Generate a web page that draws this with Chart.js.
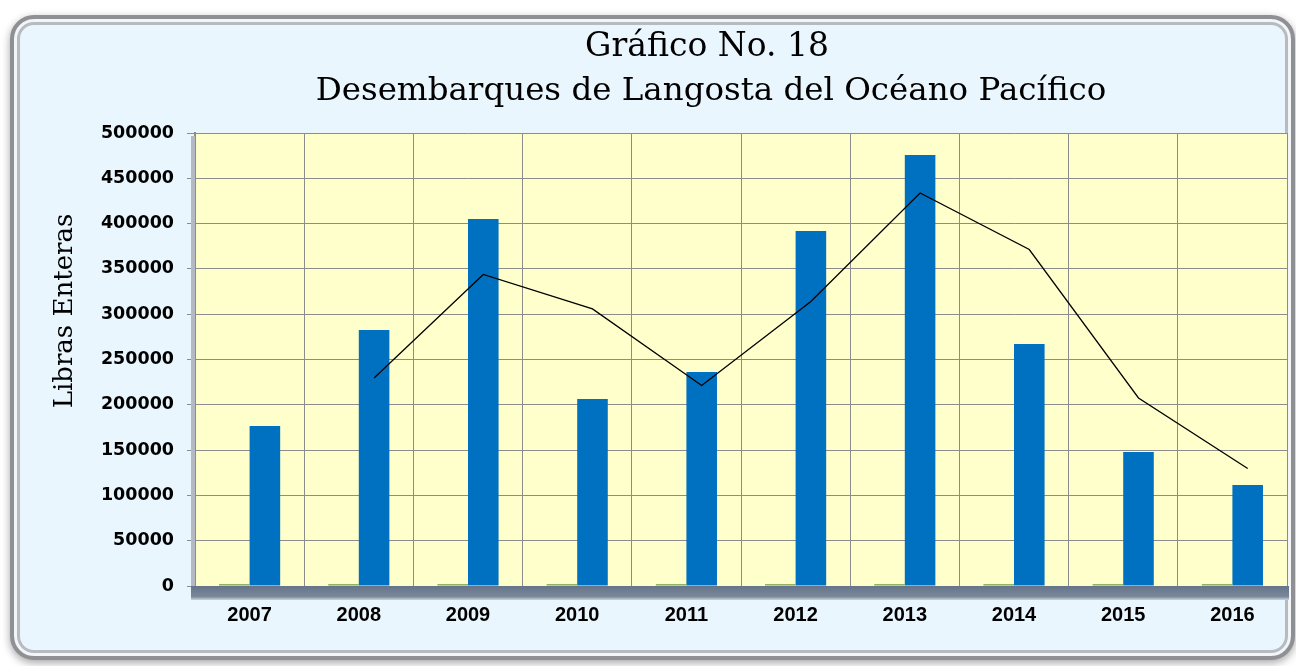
<!DOCTYPE html>
<html>
<head>
<meta charset="utf-8">
<title>Desembarques de Langosta del Océano Pacífico</title>
<script src="https://cdn.jsdelivr.net/npm/chart.js@4.4.1/dist/chart.umd.min.js"></script>
<style>
  html, body { margin: 0; padding: 0; background: #ffffff; }
  body { width: 1296px; height: 666px; position: relative; overflow: hidden; }
  .card {
    position: absolute; left: 10px; top: 15px; width: 1277px; height: 637px;
    background: #eaf6fe; border: 4px solid #8e9094; border-radius: 24px;
    box-shadow: inset 0 0 0 3px #f3f5f7, inset 0 0 0 6px #b6bbc2, 0 3px 8px rgba(0,0,0,0.35);
  }
  #wrap { position: absolute; left: 0; top: 0; width: 1296px; height: 666px; }
</style>
</head>
<body>
<div class="card"></div>
<div id="wrap"><canvas id="myChart" width="1296" height="666"></canvas></div>
<script>
// data
const years = ['2007', '2008', '2009', '2010', '2011', '2012', '2013', '2014', '2015', '2016'];
const libras = [176600, 282600, 405100, 206400, 236200, 391800, 475700, 267100, 147900, 111500];
const otros = [2000, 2000, 2000, 2000, 2000, 2000, 2000, 2000, 2000, 2000];
const mediaMovil = [null, 229600, 343900, 305800, 221300, 314000, 433800, 371400, 207500, 129700];
const titleLines = ['Gráfico No. 18', 'Desembarques de Langosta del Océano Pacífico'];
const yTitle = 'Libras Enteras';

const frame = {
    id: 'frame',
    beforeDraw(chart) {
        const {ctx, chartArea: a} = chart;
        ctx.save();
        ctx.fillStyle = '#ffffcc';
        ctx.fillRect(a.left, a.top, a.right - a.left, a.bottom - a.top);
        ctx.restore();
    },
    beforeDatasetsDraw(chart) {
        const {ctx, chartArea: a} = chart;
        ctx.save();
        // left wall
        ctx.fillStyle = '#b4bac3';
        ctx.fillRect(a.left - 4, a.top + 3, 4, a.bottom - a.top);
        // floor
        const g = ctx.createLinearGradient(0, a.bottom, 0, a.bottom + 14);
        g.addColorStop(0, '#65748a');
        g.addColorStop(0.75, '#7b889a');
        g.addColorStop(1, '#c9d2dc');
        ctx.fillStyle = g;
        ctx.fillRect(a.left - 4, a.bottom, a.right - a.left + 6, 14);
        ctx.restore();
    },
    // the trend line sits over the centre of the blue bars
    beforeDatasetDraw(chart, args) {
        if (args.index !== 0) return;
        const bar = chart.getDatasetMeta(2).data[0];
        const shift = bar.x - chart.scales.x.getPixelForValue(0);
        chart.ctx.save();
        chart.ctx.translate(shift, 0);
    },
    afterDatasetDraw(chart, args) {
        if (args.index === 0) chart.ctx.restore();
    },
    afterDraw(chart) {
        const ctx = chart.ctx;
        ctx.save();
        ctx.fillStyle = '#000';
        ctx.textAlign = 'center';
        ctx.textBaseline = 'middle';
        ctx.font = '33px "DejaVu Serif"';
        ctx.fillText(titleLines[0], 707, 47);
        ctx.font = '32.5px "DejaVu Serif"';
        ctx.fillText(titleLines[1], 711, 92);
        ctx.translate(65, 311);
        ctx.rotate(-Math.PI / 2);
        ctx.font = '26px "DejaVu Serif"';
        ctx.fillText(yTitle, 0, 0);
        ctx.restore();
    }
};

const ctx = document.getElementById('myChart').getContext('2d');
const chart = new Chart(ctx, {
    type: 'bar',
    data: {
        labels: years,
        datasets: [
            {
                label: 'Media móvil',
                type: 'line',
                data: mediaMovil,
                borderColor: '#000000',
                borderWidth: 1.3,
                pointRadius: 0,
                tension: 0,
                order: 0
            },
            {
                label: 'Otros',
                data: otros,
                backgroundColor: '#77a04a',
                categoryPercentage: 0.56,
                barPercentage: 1,
                order: 1
            },
            {
                label: 'Libras Enteras',
                data: libras,
                backgroundColor: '#0070c0',
                categoryPercentage: 0.56,
                barPercentage: 1,
                order: 1
            }
        ]
    },
    options: {
        responsive: false,
        animation: false,
        layout: { padding: { left: 48, right: 9, top: 133, bottom: 0 } },
        plugins: {
            legend: { display: false },
            title: { display: false },
            tooltip: { enabled: false }
        },
        scales: {
            x: {
                grid: { color: '#8c8c8c', lineWidth: 1, tickLength: 12, offset: true },
                border: { color: '#8c8c8c' },
                ticks: { color: '#000', font: { family: '"Liberation Sans"', size: 20, weight: 'bold' }, padding: 5 },
                afterFit(scale) { scale.height = 80; }
            },
            y: {
                min: 0,
                max: 500000,
                ticks: {
                    stepSize: 50000,
                    color: '#000',
                    font: { family: '"DejaVu Sans"', size: 17.5, weight: 'bold' },
                    padding: 13,
                    callback: v => String(v)
                },
                grid: { color: '#8c8c8c', lineWidth: 1, tickLength: 8 },
                border: { color: '#8c8c8c', width: 2 },
                afterFit(scale) { scale.width = 147; }
            }
        }
    },
    plugins: [frame]
});
</script>
</body>
</html>
